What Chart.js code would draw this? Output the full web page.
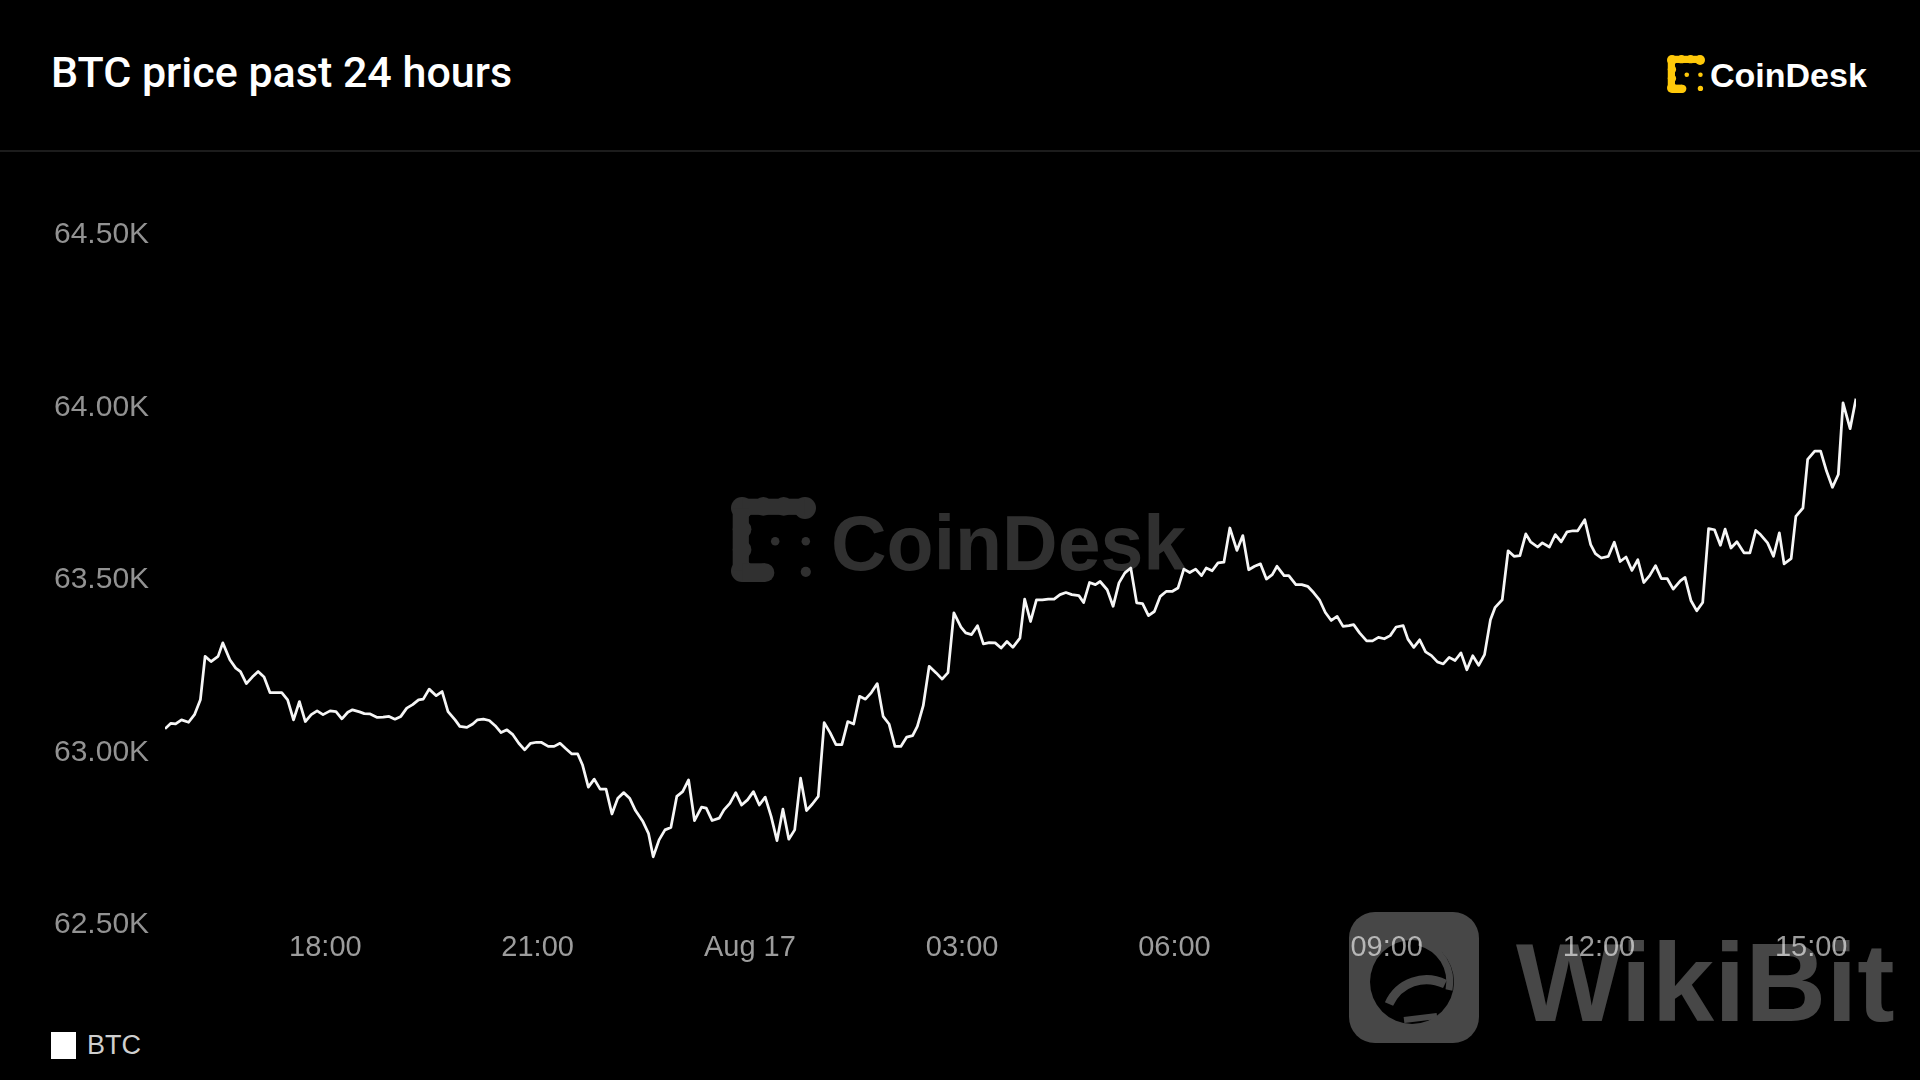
<!DOCTYPE html>
<html>
<head>
<meta charset="utf-8">
<title>BTC price past 24 hours</title>
<script src="https://cdn.jsdelivr.net/npm/chart.js@4.4.1/dist/chart.umd.min.js"></script>
<style>
  html, body { margin: 0; padding: 0; background: #000; }
  body { width: 1920px; height: 1080px; position: relative; overflow: hidden; font-family: "Liberation Sans", Arial, sans-serif; }
  .title { position: absolute; left: 51px; top: 51px; margin: 0; font-family: Roboto, sans-serif; font-weight: 500; font-size: 43px; line-height: 43px; color: #fff; white-space: nowrap; }
  .brand-icon { position: absolute; left: 1667px; top: 55px; width: 38px; height: 38px; }
  .brand-text { position: absolute; left: 1710px; top: 58px; font-weight: bold; font-size: 34px; line-height: 34px; color: #fff; }
  .divider { position: absolute; left: 0; top: 150px; width: 1920px; height: 2px; background: #1c1c1c; }
  .wm-icon { position: absolute; left: 731px; top: 497px; width: 85px; height: 85px; z-index: 0; }
  .wm-text { position: absolute; left: 831px; top: 505px; font-weight: bold; font-size: 77px; line-height: 77px; color: #303030; z-index: 0; }
  .chart-box { position: absolute; left: 0; top: 152px; width: 1920px; height: 848px; z-index: 1; }
  #legend-container { position: absolute; left: 51px; top: 1032px; z-index: 2; }
  .wiki { position: absolute; z-index: 3; pointer-events: none; }
  .wiki-text { left: 1516px; top: 927px; font-weight: bold; font-size: 112px; line-height: 112px; color: rgba(255,255,255,0.28); }
</style>
</head>
<body>
<h1 class="title">BTC price past 24 hours</h1>

<svg class="brand-icon" viewBox="0 0 100 100">
  <g fill="#ffc90a">
    <circle cx="13" cy="13" r="13"/><circle cx="38" cy="11" r="11"/><circle cx="62" cy="11" r="11"/><circle cx="87" cy="13" r="13"/>
    <rect x="13" y="2" width="74" height="19"/>
    <circle cx="13" cy="38" r="11"/><circle cx="13" cy="62" r="11"/><circle cx="13" cy="87" r="13"/>
    <rect x="2" y="13" width="19" height="74"/>
    <circle cx="40" cy="89" r="11"/><rect x="13" y="78" width="27" height="22"/>
    <circle cx="52" cy="52" r="6"/><circle cx="88" cy="52" r="6"/><circle cx="88" cy="88" r="7"/>
  </g>
</svg>
<div class="brand-text">CoinDesk</div>
<div class="divider"></div>

<svg class="wm-icon" viewBox="0 0 100 100">
  <g fill="#303030">
    <circle cx="13" cy="13" r="13"/><circle cx="38" cy="11" r="11"/><circle cx="62" cy="11" r="11"/><circle cx="87" cy="13" r="13"/>
    <rect x="13" y="2" width="74" height="19"/>
    <circle cx="13" cy="38" r="11"/><circle cx="13" cy="62" r="11"/><circle cx="13" cy="87" r="13"/>
    <rect x="2" y="13" width="19" height="74"/>
    <circle cx="40" cy="89" r="11"/><rect x="13" y="78" width="27" height="22"/>
    <circle cx="52" cy="52" r="5"/><circle cx="88" cy="52" r="5"/><circle cx="88" cy="88" r="6"/>
  </g>
</svg>
<div class="wm-text">CoinDesk</div>

<div class="chart-box"><canvas id="btcChart" width="1920" height="848"></canvas></div>
<div id="legend-container"></div>

<svg class="wiki" style="left:1349px; top:912px; width:130px; height:131px;" viewBox="0 0 130 131">
  <defs>
    <mask id="birdMask">
      <rect x="0" y="0" width="130" height="131" fill="#fff"/>
      <circle cx="63" cy="70" r="42" fill="#000"/>
      <path d="M40 92 C 50 70, 75 62, 96 72" stroke="#fff" stroke-width="9" fill="none"/>
      <path d="M70 30 C 92 36, 104 56, 100 78" stroke="#fff" stroke-width="7" fill="none"/>
      <path d="M55 108 L 88 104" stroke="#fff" stroke-width="6" fill="none"/>
    </mask>
  </defs>
  <rect x="0" y="0" width="130" height="131" rx="26" fill="rgba(255,255,255,0.28)" mask="url(#birdMask)"/>
</svg>
<div class="wiki wiki-text">WikiBit</div>

<script>
// time in minutes from Aug 16 00:00, price in USD
const minutes = [
  944, 949, 953, 958, 964, 969, 974, 978, 983, 989, 993, 999, 1004, 1008, 1013, 1018, 1023, 1028, 1033, 1043,
  1048, 1053, 1058, 1063, 1068, 1073, 1078, 1084, 1089, 1094, 1099, 1103, 1109, 1113, 1118, 1124, 1129, 1134, 1139, 1144,
  1149, 1154, 1159, 1163, 1168, 1174, 1179, 1184, 1190, 1194, 1200, 1205, 1209, 1214, 1219, 1224, 1229, 1234, 1239, 1244,
  1249, 1254, 1259, 1263, 1269, 1274, 1279, 1284, 1289, 1294, 1298, 1303, 1308, 1313, 1318, 1323, 1328, 1333, 1338, 1343,
  1349, 1354, 1358, 1363, 1368, 1373, 1378, 1383, 1388, 1393, 1399, 1403, 1408, 1414, 1418, 1423, 1428, 1433, 1438, 1443,
  1448, 1453, 1458, 1463, 1468, 1473, 1478, 1483, 1488, 1493, 1498, 1503, 1508, 1513, 1518, 1523, 1528, 1533, 1538, 1543,
  1548, 1553, 1558, 1563, 1568, 1573, 1578, 1582, 1587, 1592, 1598, 1603, 1608, 1613, 1619, 1623, 1628, 1633, 1638, 1643,
  1648, 1653, 1658, 1663, 1669, 1673, 1678, 1683, 1688, 1693, 1698, 1703, 1708, 1713, 1719, 1723, 1728, 1733, 1737, 1743,
  1748, 1753, 1758, 1763, 1768, 1773, 1778, 1783, 1788, 1793, 1798, 1803, 1808, 1813, 1818, 1823, 1827, 1832, 1837, 1842,
  1847, 1853, 1858, 1863, 1868, 1873, 1878, 1883, 1887, 1893, 1897, 1903, 1908, 1913, 1918, 1923, 1928, 1933, 1938, 1943,
  1948, 1952, 1957, 1963, 1968, 1973, 1978, 1983, 1988, 1994, 1998, 2003, 2008, 2013, 2018, 2023, 2028, 2033, 2038, 2043,
  2048, 2053, 2058, 2063, 2068, 2072, 2078, 2083, 2088, 2093, 2098, 2102, 2108, 2112, 2118, 2123, 2128, 2133, 2138, 2142,
  2148, 2153, 2157, 2162, 2168, 2173, 2178, 2183, 2188, 2193, 2198, 2203, 2208, 2213, 2218, 2223, 2229, 2233, 2238, 2243,
  2248, 2253, 2258, 2263, 2267, 2272, 2277, 2283, 2288, 2293, 2297, 2303, 2308, 2313, 2317, 2323, 2327, 2333, 2337, 2343,
  2348, 2353, 2358, 2363, 2367, 2373, 2378
];
const prices = [
  63060, 63076, 63074, 63086, 63079, 63101, 63144, 63270, 63255, 63270, 63309, 63260, 63236, 63226, 63191, 63210, 63226, 63210, 63165, 63165,
  63144, 63086, 63139, 63081, 63101, 63112, 63101, 63112, 63110, 63089, 63108, 63115, 63109, 63104, 63103, 63093, 63094, 63096, 63088, 63096,
  63120, 63130, 63144, 63146, 63175, 63156, 63168, 63110, 63086, 63067, 63064, 63074, 63086, 63088, 63084, 63069, 63049, 63057, 63043, 63018,
  62999, 63018, 63021, 63021, 63009, 63009, 63018, 63002, 62987, 62987, 62956, 62891, 62914, 62885, 62885, 62813, 62859, 62875, 62859, 62823,
  62793, 62757, 62689, 62738, 62767, 62774, 62864, 62878, 62912, 62794, 62833, 62830, 62794, 62801, 62825, 62844, 62875, 62839, 62854, 62878,
  62839, 62862, 62806, 62736, 62827, 62740, 62767, 62917, 62823, 62842, 62864, 63078, 63049, 63014, 63014, 63081, 63074, 63154, 63146, 63165,
  63191, 63096, 63074, 63009, 63009, 63036, 63040, 63067, 63127, 63241, 63222, 63204, 63223, 63396, 63355, 63338, 63333, 63359, 63306, 63310,
  63309, 63294, 63313, 63296, 63323, 63436, 63371, 63434, 63434, 63436, 63436, 63449, 63455, 63449, 63446, 63426, 63484, 63478, 63487, 63463,
  63415, 63483, 63512, 63526, 63425, 63423, 63388, 63400, 63444, 63458, 63458, 63468, 63523, 63513, 63523, 63504, 63526, 63518, 63541, 63543,
  63642, 63577, 63620, 63521, 63531, 63538, 63494, 63507, 63531, 63504, 63504, 63478, 63478, 63473, 63455, 63434, 63397, 63374, 63386, 63357,
  63359, 63362, 63338, 63315, 63315, 63325, 63321, 63330, 63355, 63359, 63320, 63296, 63318, 63283, 63272, 63254, 63248, 63267, 63258, 63280,
  63231, 63272, 63244, 63275, 63376, 63412, 63434, 63576, 63560, 63562, 63625, 63602, 63587, 63599, 63587, 63623, 63602, 63631, 63634, 63634,
  63666, 63594, 63568, 63555, 63560, 63601, 63545, 63558, 63519, 63550, 63484, 63504, 63533, 63495, 63495, 63465, 63489, 63499, 63432, 63402,
  63426, 63640, 63637, 63592, 63639, 63584, 63602, 63570, 63570, 63635, 63623, 63599, 63560, 63628, 63538, 63553, 63676, 63700, 63841, 63865,
  63865, 63807, 63760, 63797, 64005, 63930, 64017
];
const xTickValues = [1080, 1260, 1440, 1620, 1800, 1980, 2160, 2340];
const xTickLabels = ['18:00', '21:00', 'Aug 17', '03:00', '06:00', '09:00', '12:00', '15:00'];
const yTickValues = [62500, 63000, 63500, 64000, 64500];
const seriesLabel = 'BTC';

const ChartManager = {
    //legend built as html under the chart
    htmlLegendPlugin: {
        id: 'htmlLegend',
        afterUpdate(chart, args, options) {
            const box = document.getElementById(options.containerID);
            while (box.firstChild) {
                box.firstChild.remove();
            }
            const items = chart.options.plugins.legend.labels.generateLabels(chart);
            items.forEach(item => {
                const row = document.createElement('div');
                row.style.display = 'flex';
                row.style.alignItems = 'center';
                row.style.gap = '11px';

                const swatch = document.createElement('span');
                swatch.style.display = 'inline-block';
                swatch.style.width = '25px';
                swatch.style.height = '27px';
                swatch.style.background = item.fillStyle;

                const text = document.createElement('span');
                text.style.color = '#cfcfcf';
                text.style.fontSize = '27px';
                text.style.lineHeight = '27px';
                text.style.fontFamily = '"Liberation Sans", Arial, sans-serif';
                text.textContent = item.text;

                row.appendChild(swatch);
                row.appendChild(text);
                box.appendChild(row);
            });
        }
    },

    createChart(ctx) {
        const points = minutes.map((m, i) => ({ x: m, y: prices[i] }));
        return new Chart(ctx, {
            type: 'line',
            data: {
                datasets: [{
                    label: seriesLabel,
                    data: points,
                    borderColor: '#f6f6f6',
                    backgroundColor: '#ffffff',
                    borderWidth: 2.75,
                    borderJoinStyle: 'round',
                    pointRadius: 0,
                    tension: 0,
                    fill: false
                }]
            },
            options: {
                responsive: false,
                animation: false,
                devicePixelRatio: 1,
                layout: { padding: { left: 54, right: 64, top: 80, bottom: 30 } },
                plugins: {
                    legend: { display: false },
                    tooltip: { enabled: false },
                    htmlLegend: { containerID: 'legend-container' }
                },
                scales: {
                    x: {
                        type: 'linear',
                        min: minutes[0],
                        max: minutes[minutes.length - 1],
                        grid: { display: false, drawTicks: false },
                        border: { display: false },
                        afterBuildTicks: scale => { scale.ticks = xTickValues.map(v => ({ value: v })); },
                        afterFit: scale => { scale.height = 48; },
                        ticks: {
                            autoSkip: false,
                            maxRotation: 0,
                            padding: 9,
                            color: '#9c9c9c',
                            font: { family: '"Liberation Sans", Arial, sans-serif', size: 29 },
                            callback: value => xTickLabels[xTickValues.indexOf(value)]
                        }
                    },
                    y: {
                        min: yTickValues[0],
                        max: yTickValues[yTickValues.length - 1],
                        grid: { display: false, drawTicks: false },
                        border: { display: false },
                        afterBuildTicks: scale => { scale.ticks = yTickValues.map(v => ({ value: v })); },
                        afterFit: scale => { scale.width = 111; },
                        ticks: {
                            crossAlign: 'far',
                            padding: 0,
                            labelOffset: 3,
                            color: '#929292',
                            font: { family: '"Liberation Sans", Arial, sans-serif', size: 30 },
                            callback: value => (value / 1000).toFixed(2) + 'K'
                        }
                    }
                }
            },
            plugins: [this.htmlLegendPlugin]
        });
    }
};

ChartManager.createChart(document.getElementById('btcChart'));
</script>
</body>
</html>
